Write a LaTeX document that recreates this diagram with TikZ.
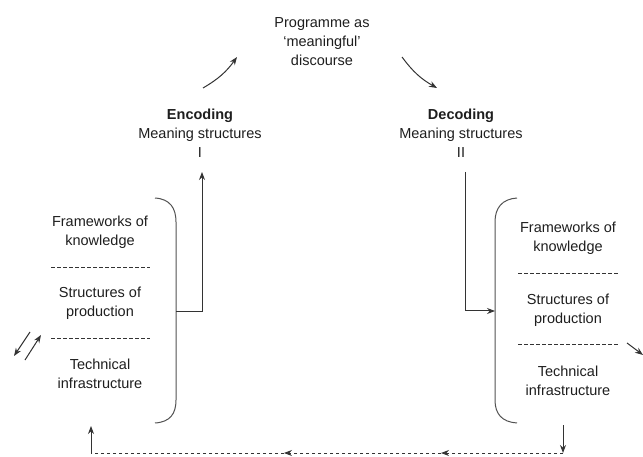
\documentclass[tikz,border=0pt]{standalone}
\usepackage{fontspec}
\setmainfont{Liberation Sans}
\usetikzlibrary{arrows.meta}
\definecolor{ink}{HTML}{1E1E1E}
\definecolor{linec}{HTML}{333333}
\begin{document}
\begin{tikzpicture}[x=1pt,y=-1pt,
  lbl/.style={align=center,inner sep=0pt,text=ink,font=\fontsize{14.5}{19}\selectfont},
  conn/.style={draw=linec,line width=1pt},
  tip/.style={-{Stealth[length=8pt,width=6pt]}},
  sep/.style={draw=linec,line width=0.9pt,dash pattern=on 3.5pt off 2.5pt},
  brk/.style={draw=linec!85,line width=1pt}]
\useasboundingbox (0,0) rectangle (643,457);
% top
\node[lbl] (prog) at (322,42) {Programme as\\‘meaningful’\\discourse};
\node[lbl] (enc) at (200,133) {\textbf{Encoding}\\Meaning structures\\I};
\node[lbl] (dec) at (461,133) {\textbf{Decoding}\\Meaning structures\\II};
% left block
\node[lbl] (lf) at (100,232) {Frameworks of\\knowledge};
\node[lbl] (ls) at (100,303) {Structures of\\production};
\node[lbl] (lt) at (100,374) {Technical\\infrastructure};
\draw[sep] (51,267) -- (150,267);
\draw[sep] (51,338) -- (150,338);
% right block
\node[lbl] (rf) at (568,238) {Frameworks of\\knowledge};
\node[lbl] (rs) at (568,310) {Structures of\\production};
\node[lbl] (rt) at (568,381) {Technical\\infrastructure};
\draw[sep] (518,273) -- (618,273);
\draw[sep] (518,344) -- (618,344);
% brackets
\draw[brk] (155,198) .. controls (170,199) and (176,208) .. (176,222) -- (176,400) .. controls (176,414) and (170,422) .. (155,423);
\draw[brk] (517,198) .. controls (502,199) and (495,208) .. (495,222) -- (495,400) .. controls (495,414) and (502,422) .. (517,423);
% coordinates
\coordinate (lbr) at (176,312);
\coordinate (encin) at (202,172);
\coordinate (decout) at (465,172);
\coordinate (rbr) at (495,311);
\coordinate (a1s) at (203,88);
\coordinate (a1e) at (237,57);
\coordinate (a2s) at (402,57);
\coordinate (a2e) at (437,88);
\coordinate (lup) at (91,426);
\coordinate (lcorner) at (91,453);
\coordinate (rdn) at (563,425);
\coordinate (rcorner) at (563,453);
\coordinate (m1) at (441,453);
\coordinate (m2) at (284,453);
\coordinate (d1s) at (30,332);
\coordinate (d1e) at (14,356);
\coordinate (d2s) at (25,360);
\coordinate (d2e) at (41,335);
\coordinate (rxs) at (627,343);
\coordinate (rxe) at (643,355);
% connectors
\draw[conn,tip] (lbr) -| (encin);
\draw[conn,tip] (decout) |- (rbr);
\draw[conn,tip] (a1s) to[bend right=12] (a1e);
\draw[conn,tip] (a2s) to[bend right=12] (a2e);
\draw[conn,tip] (lcorner) -- (lup);
\draw[conn,tip] (rdn) -- (rcorner);
\draw[sep,tip] (rcorner) -- (m1);
\draw[sep,tip] (m1) -- (m2);
\draw[sep] (m2) -- (lcorner);
\draw[conn,tip] (d1s) -- (d1e);
\draw[conn,tip] (d2s) -- (d2e);
\draw[conn,tip] (rxs) -- (rxe);
\end{tikzpicture}
\end{document}
